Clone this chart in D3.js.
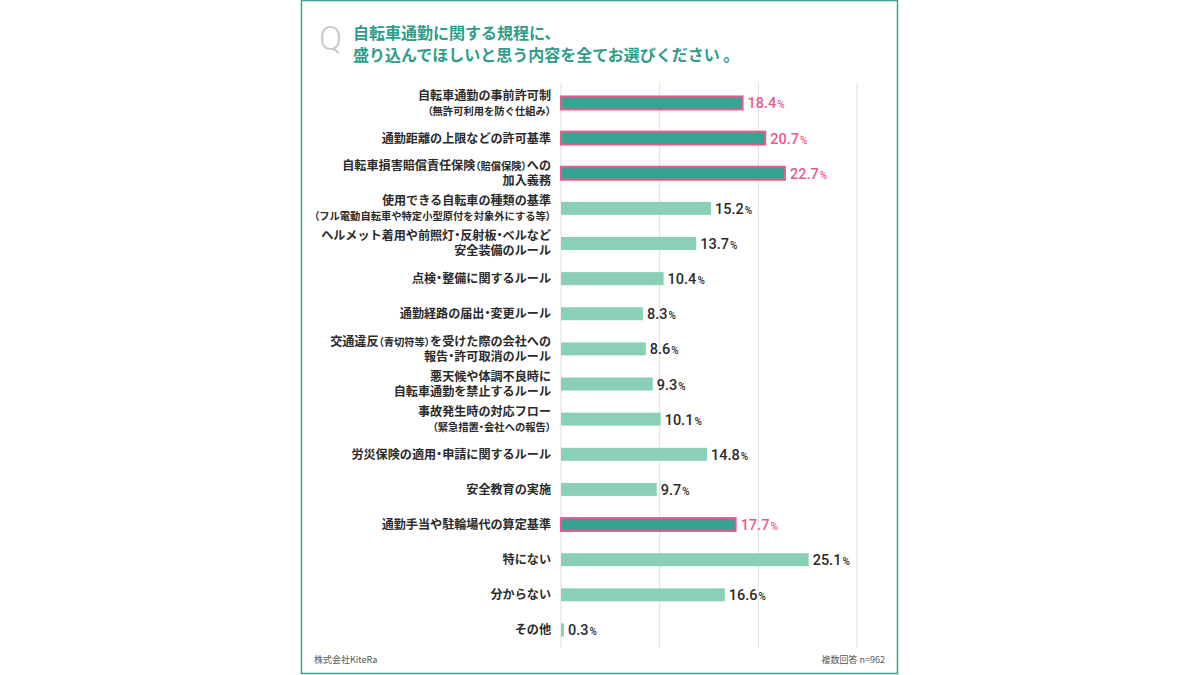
<!DOCTYPE html>
<html lang="ja">
<head>
<meta charset="UTF-8">
<title>自転車通勤に関する規程</title>
<script src="https://cdn.jsdelivr.net/npm/d3@7/dist/d3.min.js"></script>
<style>
    body { margin: 0; background: #fff; }
    svg { display: block; }
    .tight { font-feature-settings: "palt" 1; }
</style>
</head>
<body>
<div id="container"></div>
<script>
    // data
    let categories = [
        "自転車通勤の事前許可制\n（無許可利用を防ぐ仕組み）",
        "通勤距離の上限などの許可基準",
        "自転車損害賠償責任保険（賠償保険）への\n加入義務",
        "使用できる自転車の種類の基準\n（フル電動自転車や特定小型原付を対象外にする等）",
        "ヘルメット着用や前照灯・反射板・ベルなど\n安全装備のルール",
        "点検・整備に関するルール",
        "通勤経路の届出・変更ルール",
        "交通違反（青切符等）を受けた際の会社への\n報告・許可取消のルール",
        "悪天候や体調不良時に\n自転車通勤を禁止するルール",
        "事故発生時の対応フロー\n（緊急措置・会社への報告）",
        "労災保険の適用・申請に関するルール",
        "安全教育の実施",
        "通勤手当や駐輪場代の算定基準",
        "特にない",
        "分からない",
        "その他"
    ]
    let values = [18.4, 20.7, 22.7, 15.2, 13.7, 10.4, 8.3, 8.6, 9.3, 10.1, 14.8, 9.7, 17.7, 25.1, 16.6, 0.3]
    let highlighted = [true, true, true, false, false, false, false, false, false, false, false, false, true, false, false, false]
    let xTicks = [0, 10, 20, 30]
    let titleLines = ["自転車通勤に関する規程に、", "盛り込んでほしいと思う内容を全てお選びください 。"]
    let sourceText = "株式会社KiteRa"
    let noteText = "複数回答 n=962"

    let width = 1200
    let height = 675
    let teal = '#36a393'
    let pink = '#ea5b8c'
    let mint = '#89d0b6'
    let jp = '"Noto Sans CJK JP", "Noto Sans", sans-serif'
    let num = 'Roboto, "Noto Sans", sans-serif'

    let svg = d3.select('#container')
        .append('svg')
        .attr('width', width)
        .attr('height', height)
        .attr('viewBox', '0 0 ' + width + ' ' + height)

    // card
    svg.append('rect')
        .attr('x', 301.5).attr('y', 0.5)
        .attr('width', 596).attr('height', 673)
        .attr('fill', '#fff')
        .attr('stroke', teal)
        .attr('stroke-width', 1.5)

    // title
    svg.append('text')
        .attr('x', 319).attr('y', 50)
        .attr('font-family', num)
        .attr('font-weight', 300)
        .attr('font-size', 34)
        .attr('fill', '#c9c9c9')
        .text('Q')

    svg.append('g').selectAll('text')
        .data(titleLines)
        .enter()
        .append('text')
        .attr('x', 353)
        .attr('y', (d, i) => 38.5 + i * 22)
        .attr('font-family', jp)
        .attr('font-weight', 700)
        .attr('font-size', 16)
        .attr('fill', '#2e9c89')
        .text(d => d)

    let x = d3.scaleLinear()
        .domain([0, 30])
        .range([561, 857])

    let y = d3.scaleBand()
        .domain(categories)
        .range([85.4, 647.5])

    let barH = 13

    // grid
    svg.append('g').selectAll('line')
        .data(xTicks)
        .enter()
        .append('line')
        .attr('x1', d => x(d)).attr('x2', d => x(d))
        .attr('y1', 83).attr('y2', 648)
        .attr('stroke', '#dedede')
        .attr('stroke-width', 1)

    let rows = svg.append('g').selectAll('g')
        .data(categories)
        .enter()
        .append('g')
        .attr('transform', d => 'translate(0,' + (y(d) + y.bandwidth() / 2) + ')')

    // bars
    rows.append('rect')
        .attr('x', x(0))
        .attr('y', -barH / 2)
        .attr('width', (d, i) => x(values[i]) - x(0))
        .attr('height', barH)
        .attr('fill', (d, i) => highlighted[i] ? teal : mint)
        .attr('stroke', (d, i) => highlighted[i] ? pink : 'none')
        .attr('stroke-width', 2)

    // value labels
    let vl = rows.append('text')
        .attr('x', (d, i) => x(values[i]) + (highlighted[i] ? 5 : 4))
        .attr('y', 5.5)
        .attr('font-family', num)
        .attr('font-weight', 500)
        .attr('fill', (d, i) => highlighted[i] ? pink : '#2b2b2b')
    vl.append('tspan')
        .attr('font-size', 14.5)
        .text((d, i) => values[i].toFixed(1))
    vl.append('tspan')
        .attr('font-size', 10)
        .attr('dx', 1)
        .text('%')

    // category labels: bracketed parts smaller, punctuation set tight
    rows.each(function (d) {
        let lines = d.split('\n')
        let g = d3.select(this)
        lines.forEach(function (line, li) {
            let ly = lines.length === 1 ? 4.5 : (li === 0 ? -3 : 12)
            let t = g.append('text')
                .attr('x', 551)
                .attr('y', ly)
                .attr('text-anchor', 'end')
                .attr('font-family', jp)
                .attr('font-weight', 700)
                .attr('fill', '#2b2b2b')
            let inside = false
            line.match(/[・（）]|[^・（）]+/g).forEach(function (tok) {
                if (tok === '（') inside = true
                let punct = /^[・（）]$/.test(tok)
                t.append('tspan')
                    .attr('class', punct ? 'tight' : null)
                    .attr('font-size', inside ? 10.3 : 12.1)
                    .text(tok)
                if (tok === '）') inside = false
            })
        })
    })

    // footer
    svg.append('text')
        .attr('x', 314).attr('y', 663)
        .attr('font-family', jp)
        .attr('font-size', 9)
        .attr('fill', '#555')
        .text(sourceText)
    svg.append('text')
        .attr('x', 885).attr('y', 663)
        .attr('text-anchor', 'end')
        .attr('font-family', jp)
        .attr('font-size', 9)
        .attr('fill', '#555')
        .text(noteText)
</script>
</body>
</html>
